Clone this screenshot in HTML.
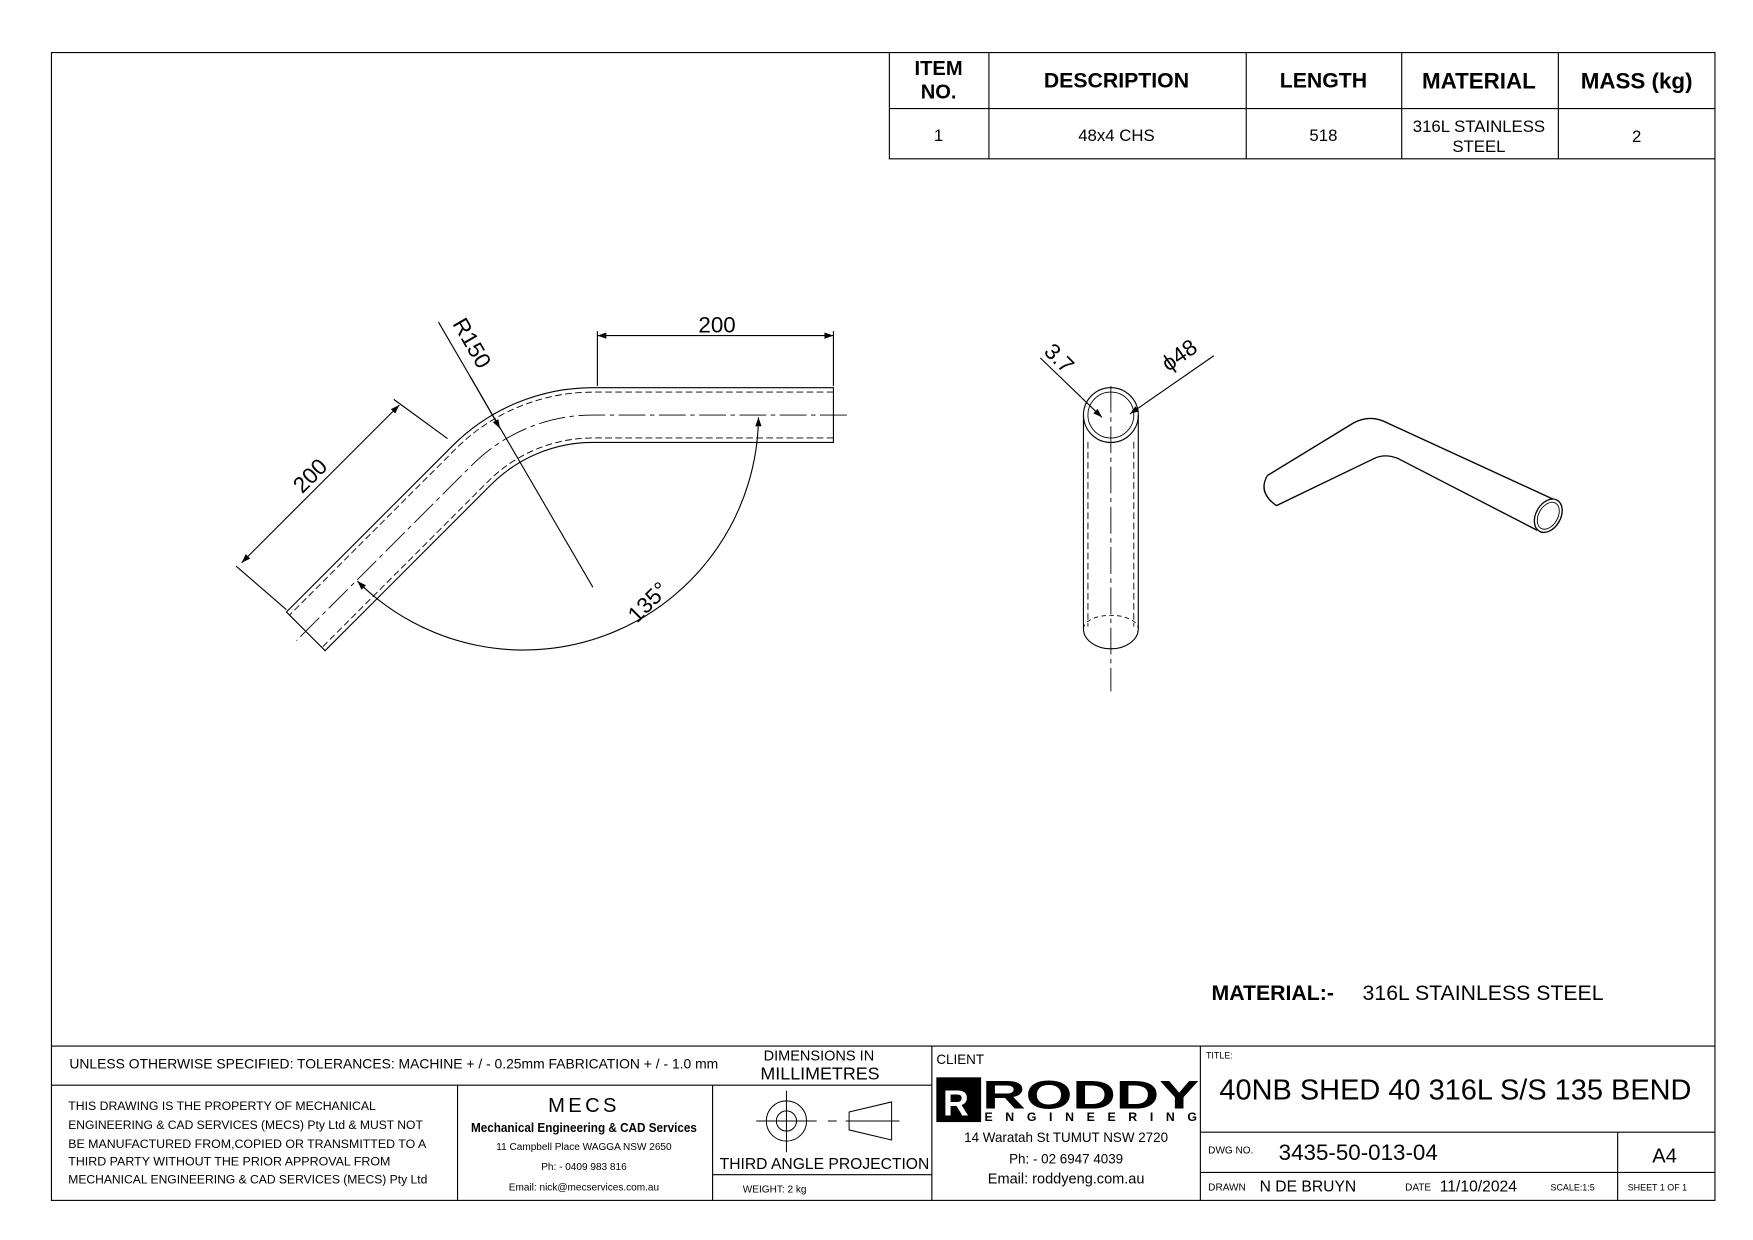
<!DOCTYPE html>
<html><head><meta charset="utf-8"><style>
html,body{margin:0;padding:0;background:#fff;}
svg{display:block;}
text{font-family:"Liberation Sans",sans-serif;fill:#000;}
</style></head><body>
<svg width="1753" height="1240" viewBox="0 0 1567 1108.4" preserveAspectRatio="none" xmlns="http://www.w3.org/2000/svg">
<defs>
<marker id="ar" viewBox="0 0 10 10" refX="10" refY="5" markerWidth="12" markerHeight="8" orient="auto-start-reverse" markerUnits="userSpaceOnUse"><path d="M0,1.5 L10,5 L0,8.5 z" fill="#000"/></marker>
</defs>
<g fill="none" stroke="#000" stroke-width="1">
<rect x="46" y="47" width="1487" height="1026"/>
<path d="M795,47 V142 H1533 M795,97 H1533 M884,47 V142 M1114,47 V142 M1253,47 V142 M1393,47 V142"/>
<path d="M46,935 H1533 M46,970 H833 M409,970 V1073 M637,970 V1073 M637,1050 H833 M833,935 V1073 M1073,935 V1073 M1073,1012 H1533 M1073,1048 H1533 M1446,1012 V1073"/>
</g>
<g font-weight="bold" font-size="18" text-anchor="middle">
<text x="839" y="67">ITEM</text><text x="839" y="88">NO.</text>
<text x="998" y="78" font-size="19">DESCRIPTION</text>
<text x="1183" y="78" font-size="19">LENGTH</text>
<text x="1322" y="79" font-size="20">MATERIAL</text>
<text x="1463" y="79" font-size="20">MASS (kg)</text>
</g>
<g font-size="15" text-anchor="middle">
<text x="839" y="126">1</text><text x="998" y="126">48x4 CHS</text><text x="1183" y="126">518</text>
<text x="1322" y="118">316L STAINLESS</text><text x="1322" y="136">STEEL</text><text x="1463" y="127">2</text>
</g>

<g fill="none" stroke="#000" stroke-width="1">
<path d="M745,346.5 H530 A177.5,177.5 0 0 0 404.5,398.5 L256,547 L290.6,581.6 L439.1,433.1 A128.5,128.5 0 0 1 530,395.5 H745 Z"/>
<g stroke-dasharray="6,3" stroke-width="0.8">
<path d="M745,350.5 H530 A173.5,173.5 0 0 0 407.3,401.3 L258.8,549.8"/>
<path d="M745,391.5 H530 A132.5,132.5 0 0 0 436.3,430.3 L287.8,578.8"/>
</g>
<path d="M757,371 H530 A153,153 0 0 0 421.8,415.8 L265,572.6" stroke-dasharray="24,4,4,4" stroke-width="0.8"/>
<path d="M534,345 V296 M745,345 V296"/>
<path d="M534,300 H745" marker-start="url(#ar)" marker-end="url(#ar)"/>
<path d="M400,392 L352,357 M256,545 L211,506"/>
<path d="M357,362 L216,503" marker-start="url(#ar)" marker-end="url(#ar)"/>
<path d="M392,288 L530,525"/>
<path d="M420,336 L447,383" marker-end="url(#ar)"/>
<path d="M678,373 A210,210 0 0 1 319.5,519.5" marker-start="url(#ar)" marker-end="url(#ar)"/>
</g>
<g font-size="20">
<text x="641" y="297" text-anchor="middle">200</text>
<text x="0" y="0" text-anchor="middle" transform="translate(282,430) rotate(-45)">200</text>
<text x="0" y="0" text-anchor="middle" transform="translate(416,310) rotate(60)">R150</text>
<text x="0" y="0" text-anchor="middle" transform="translate(584,543) rotate(-45)">135°</text>
</g>

<g fill="none" stroke="#000" stroke-width="1">
<circle cx="993" cy="371" r="24.5"/>
<circle cx="993" cy="371" r="20.5" stroke-width="0.8"/>
<path d="M968.5,371 V562 M1017.5,371 V562"/>
<path d="M968.5,562 A24.5,18 0 0 0 1017.5,562"/>
<path d="M968.5,562 A24.5,12 0 0 1 1017.5,562" stroke-dasharray="4,3" stroke-width="0.8"/>
<path d="M972.5,395 V560 M1013.5,395 V560" stroke-dasharray="6,3" stroke-width="0.8"/>
<path d="M993,345 V618" stroke-dasharray="24,4,4,4" stroke-width="0.8"/>
<path d="M930,320 L985,373" marker-end="url(#ar)"/>
<path d="M1085,318 L1010,370" marker-end="url(#ar)"/>
</g>
<g font-size="20">
<text x="0" y="0" text-anchor="middle" transform="translate(942,325) rotate(45)">3.7</text>
<text x="0" y="0" text-anchor="middle" transform="translate(1058,323) rotate(-35)">ϕ48</text>
</g>

<g fill="none" stroke="#000" stroke-width="1.2">
<path d="M1133,425 L1210,378 Q1225,370 1240,378 L1388,446"/>
<path d="M1141,452 L1228,410 Q1238,405 1250,410 L1374,474"/>
<path d="M1133,425 Q1124,440 1141,452"/>
<ellipse cx="1384" cy="461" rx="11" ry="16" transform="rotate(30 1384 461)"/>
<ellipse cx="1384" cy="461" rx="8.5" ry="13" transform="rotate(30 1384 461)" stroke-width="0.8"/>
</g>

<text x="1083" y="894" font-size="19" font-weight="bold">MATERIAL:-</text>
<text x="1218" y="894" font-size="19">316L STAINLESS STEEL</text>

<text x="62" y="955" font-size="12" textLength="580" lengthAdjust="spacingAndGlyphs">UNLESS OTHERWISE SPECIFIED: TOLERANCES: MACHINE + / - 0.25mm  FABRICATION + / - 1.0 mm</text>
<text x="732" y="948" font-size="13" text-anchor="middle">DIMENSIONS IN</text>
<text x="733" y="965" font-size="16" text-anchor="middle">MILLIMETRES</text>
<g font-size="11">
<text x="61" y="992" textLength="275" lengthAdjust="spacingAndGlyphs">THIS DRAWING IS THE PROPERTY OF MECHANICAL</text>
<text x="61" y="1009" textLength="317" lengthAdjust="spacingAndGlyphs">ENGINEERING &amp; CAD SERVICES (MECS) Pty Ltd &amp; MUST NOT</text>
<text x="61" y="1026" textLength="320" lengthAdjust="spacingAndGlyphs">BE MANUFACTURED FROM,COPIED OR TRANSMITTED TO A</text>
<text x="61" y="1042" textLength="288" lengthAdjust="spacingAndGlyphs">THIRD PARTY WITHOUT THE PRIOR APPROVAL FROM</text>
<text x="61" y="1058" textLength="321" lengthAdjust="spacingAndGlyphs">MECHANICAL ENGINEERING &amp; CAD SERVICES (MECS) Pty Ltd</text>
</g>
<text x="522" y="994" font-size="18" text-anchor="middle" letter-spacing="3">MECS</text>
<text x="522" y="1012" font-size="11.5" font-weight="bold" text-anchor="middle" textLength="202" lengthAdjust="spacingAndGlyphs">Mechanical Engineering &amp; CAD Services</text>
<text x="522" y="1028" font-size="9" text-anchor="middle">11 Campbell Place WAGGA NSW 2650</text>
<text x="522" y="1046" font-size="9" text-anchor="middle">Ph: - 0409 983 816</text>
<text x="522" y="1064" font-size="9" text-anchor="middle">Email: nick@mecservices.com.au</text>
<g fill="none" stroke="#000" stroke-width="0.9">
<circle cx="703" cy="1002" r="18"/><circle cx="703" cy="1002" r="9"/>
<path d="M676,1002 H730 M703,975 V1030 M740,1002 H748 M756,1002 H804 M759,994 L797,985 V1019 L759,1010 Z"/>
</g>
<text x="737" y="1045" font-size="14" text-anchor="middle">THIRD ANGLE PROJECTION</text>
<text x="664" y="1066" font-size="9">WEIGHT: 2 kg</text>

<text x="837" y="951" font-size="12">CLIENT</text>
<rect x="837" y="963" width="40" height="40" fill="#000"/>
<text x="843" y="997" font-size="32" font-weight="bold" style="fill:#fff">R</text>
<text x="878" y="991" font-size="36" font-weight="bold" textLength="194" lengthAdjust="spacingAndGlyphs">RODDY</text>
<text x="880" y="1002" font-size="11" font-weight="bold" textLength="190" lengthAdjust="spacing">ENGINEERING</text>
<text x="953" y="1021" font-size="12" text-anchor="middle">14 Waratah St TUMUT NSW 2720</text>
<text x="953" y="1040" font-size="12" text-anchor="middle">Ph: - 02 6947 4039</text>
<text x="953" y="1058" font-size="13" text-anchor="middle">Email: roddyeng.com.au</text>

<text x="1078" y="946" font-size="8">TITLE:</text>
<text x="1090" y="983" font-size="26" textLength="422" lengthAdjust="spacingAndGlyphs">40NB SHED 40 316L S/S 135 BEND</text>
<text x="1080" y="1031" font-size="9">DWG NO.</text>
<text x="1143" y="1037" font-size="20">3435-50-013-04</text>
<text x="1488" y="1039" font-size="18" text-anchor="middle">A4</text>
<text x="1080" y="1064" font-size="9">DRAWN</text>
<text x="1126" y="1065" font-size="14">N DE BRUYN</text>
<text x="1256" y="1064" font-size="9">DATE</text>
<text x="1287" y="1065" font-size="14">11/10/2024</text>
<text x="1386" y="1064" font-size="8">SCALE:1:5</text>
<text x="1455" y="1064" font-size="8">SHEET 1 OF 1</text>
</svg>
</body></html>
